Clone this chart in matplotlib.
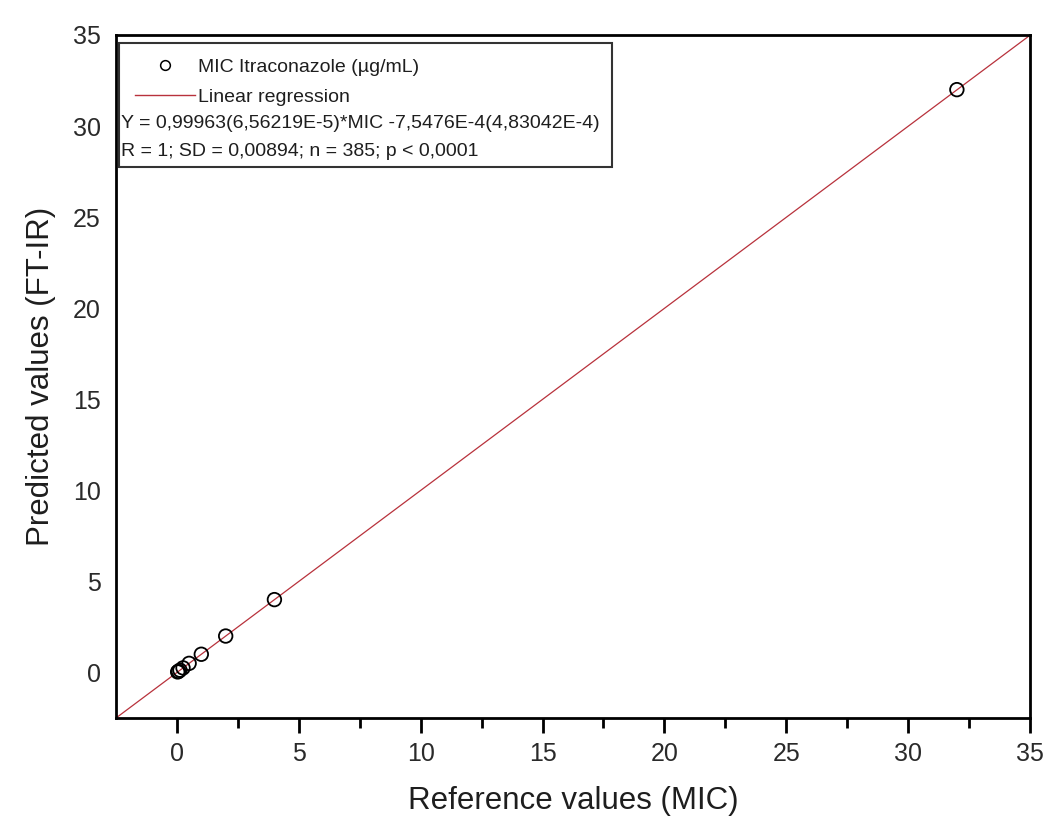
import numpy as np
import matplotlib.pyplot as plt
from matplotlib.lines import Line2D
from matplotlib.patches import Rectangle

plt.rcParams['font.family'] = ['Liberation Sans', 'DejaVu Sans']

# reference MIC values vs FT-IR predictions
mic_ref = [0.03, 0.06, 0.125, 0.25, 0.5, 1, 2, 4, 32]
mic_pred = [0.03, 0.06, 0.125, 0.25, 0.5, 1, 2, 4, 32]
slope = 0.99963
intercept = -7.5476e-4

legend_labels = ["MIC Itraconazole (µg/mL)", "Linear regression"]
legend_lines = [
    "Y = 0,99963(6,56219E-5)*MIC -7,5476E-4(4,83042E-4)",
    "R = 1; SD = 0,00894; n = 385; p < 0,0001",
]

fig = plt.figure(figsize=(10.62, 8.17), dpi=100)
ax = fig.add_axes([116 / 1062, 1 - 718 / 817, 914 / 1062, 683 / 817])

red = "#b8323c"
xfit = np.array([-2.5, 35])
ax.plot(xfit, slope * xfit + intercept, color=red, lw=0.9, zorder=2)
ax.scatter(mic_ref, mic_pred, s=95, facecolors="none", edgecolors="black",
           linewidths=1.3, zorder=3)

ax.set_xlim(-2.5, 35)
ax.set_ylim(-2.5, 35)
ax.set_xticks(np.arange(0, 36, 5))
ax.set_yticks(np.arange(0, 36, 5))
ax.set_xticks(np.arange(2.5, 35, 5), minor=True)
ax.tick_params(axis="x", which="major", direction="out", length=11, width=2,
               pad=6, labelsize=18)
ax.tick_params(axis="x", which="minor", direction="out", length=7, width=2)
ax.tick_params(axis="y", which="major", length=0, pad=11, labelsize=18)
ax.tick_params(labelcolor="#2a2a2a")
for s in ax.spines.values():
    s.set_linewidth(2)

ax.set_xlabel("Reference values (MIC)", fontsize=22.5, labelpad=15,
              color="#1e1e1e")
ax.set_ylabel("Predicted values (FT-IR)", fontsize=22.5, labelpad=12,
              color="#1e1e1e")

# legend box
ax.add_patch(Rectangle((3 / 914, 1 - 132 / 683), 493 / 914, 124 / 683,
                       transform=ax.transAxes, fill=False,
                       edgecolor="#333333", lw=1.5, zorder=5))
handles = [
    Line2D([], [], marker="o", ls="none", markerfacecolor="none",
           markeredgecolor="black", markersize=7, markeredgewidth=1.1),
    Line2D([], [], color=red, lw=1.0),
]
ax.legend(handles, legend_labels, loc="upper left",
          bbox_to_anchor=(19 / 914, 1 - 23 / 683), frameon=False,
          fontsize=14, handlelength=3.1, handletextpad=0.15,
          labelspacing=0.66, borderaxespad=0, borderpad=0,
          labelcolor="#1e1e1e")
ax.text(5 / 914, (718 - 123) / 683, legend_lines[0], transform=ax.transAxes,
        fontsize=14, va="center", ha="left", color="#1e1e1e")
ax.text(5 / 914, (718 - 151) / 683, legend_lines[1], transform=ax.transAxes,
        fontsize=14, va="center", ha="left", color="#1e1e1e")

fig.savefig("out.png", dpi=100)
